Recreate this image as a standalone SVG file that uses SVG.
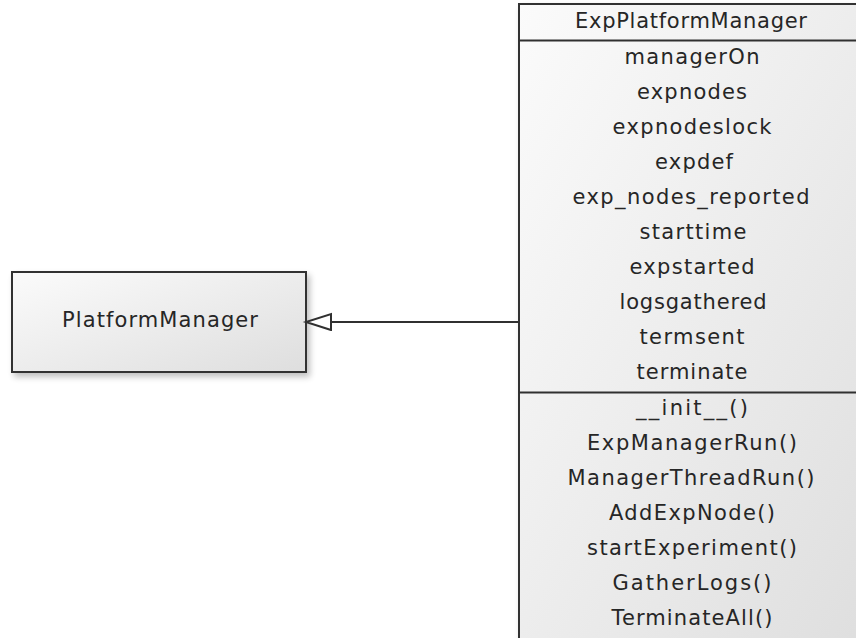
<svg xmlns="http://www.w3.org/2000/svg" width="856" height="638" viewBox="0 0 856 638">
  <style>
    .box { stroke: #303030; stroke-width: 2; }
    .sep { stroke: #303030; stroke-width: 2; fill: none; }
    .lbl { font-family: "DejaVu Sans", Verdana, sans-serif; font-size: 21px; fill: #262626; text-anchor: middle; }
    .edge { stroke: #303030; stroke-width: 2; fill: none; }
  </style>
  <defs>
    <linearGradient id="fillGrad" x1="0" y1="0" x2="1" y2="1">
      <stop offset="0" stop-color="#fbfbfb"/>
      <stop offset="1" stop-color="#dedede"/>
    </linearGradient>
    <filter id="shadow" x="-10%" y="-10%" width="130%" height="130%">
      <feGaussianBlur in="SourceAlpha" stdDeviation="3"/>
      <feOffset dx="3" dy="4" result="b"/>
      <feComponentTransfer><feFuncA type="linear" slope="0.25"/></feComponentTransfer>
      <feMerge><feMergeNode/><feMergeNode in="SourceGraphic"/></feMerge>
    </filter>
    <!-- hollow triangle for generalization, tip at the line end -->
    <marker id="inherit" markerWidth="30" markerHeight="20" refX="26" refY="9" orient="auto" markerUnits="userSpaceOnUse">
      <path d="M1,1 L26,9 L1,17 Z" fill="#ffffff" stroke="#303030" stroke-width="2"/>
    </marker>
  </defs>
  <rect width="856" height="638" fill="#ffffff"/>

  <!-- base class -->
  <g id="PlatformManager">
    <rect class="box" x="12" y="272" width="294" height="100" fill="url(#fillGrad)" filter="url(#shadow)"/>
    <text class="lbl" x="160" y="327" textLength="196" lengthAdjust="spacing">PlatformManager</text>
  </g>

  <!-- derived class with attributes and operations -->
  <g id="ExpPlatformManager">
    <rect class="box" x="519" y="4" width="350" height="650" fill="url(#fillGrad)" filter="url(#shadow)"/>
    <line class="sep" x1="519" y1="40.5" x2="869" y2="40.5"/>
    <line class="sep" x1="519" y1="392.5" x2="869" y2="392.5"/>
    <text class="lbl" x="691" y="28" textLength="232" lengthAdjust="spacing">ExpPlatformManager</text>
    <text class="lbl" x="692" y="64" textLength="135" lengthAdjust="spacing">managerOn</text>
    <text class="lbl" x="692" y="99" textLength="110" lengthAdjust="spacing">expnodes</text>
    <text class="lbl" x="692" y="134" textLength="159" lengthAdjust="spacing">expnodeslock</text>
    <text class="lbl" x="694" y="169" textLength="78" lengthAdjust="spacing">expdef</text>
    <text class="lbl" x="691" y="204" textLength="237" lengthAdjust="spacing">exp_nodes_reported</text>
    <text class="lbl" x="693" y="239" textLength="107" lengthAdjust="spacing">starttime</text>
    <text class="lbl" x="692" y="274" textLength="125" lengthAdjust="spacing">expstarted</text>
    <text class="lbl" x="693" y="309" textLength="147" lengthAdjust="spacing">logsgathered</text>
    <text class="lbl" x="692" y="344" textLength="105" lengthAdjust="spacing">termsent</text>
    <text class="lbl" x="692" y="379" textLength="111" lengthAdjust="spacing">terminate</text>
    <text class="lbl" x="692" y="415" textLength="112" lengthAdjust="spacing">__init__()</text>
    <text class="lbl" x="692" y="450" textLength="210" lengthAdjust="spacing">ExpManagerRun()</text>
    <text class="lbl" x="691" y="485" textLength="247" lengthAdjust="spacing">ManagerThreadRun()</text>
    <text class="lbl" x="692" y="520" textLength="166" lengthAdjust="spacing">AddExpNode()</text>
    <text class="lbl" x="692" y="555" textLength="210" lengthAdjust="spacing">startExperiment()</text>
    <text class="lbl" x="692" y="590" textLength="159" lengthAdjust="spacing">GatherLogs()</text>
    <text class="lbl" x="692" y="625" textLength="161" lengthAdjust="spacing">TerminateAll()</text>
  </g>

  <!-- generalization connector -->
  <g id="connectors">
    <line class="edge" x1="519" y1="322" x2="306" y2="322" marker-end="url(#inherit)"/>
  </g>
</svg>
